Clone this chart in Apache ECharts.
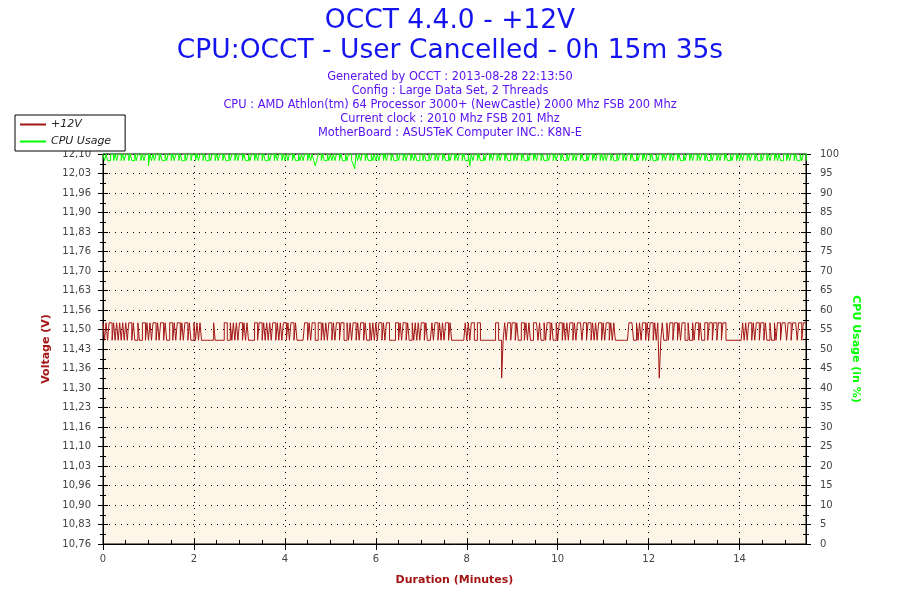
<!DOCTYPE html>
<html>
<head>
<meta charset="utf-8">
<script src="https://cdn.jsdelivr.net/npm/echarts@6/dist/echarts.min.js"></script>
<style>
html,body{margin:0;padding:0;background:#fff;}
#chart{width:900px;height:600px;}
</style>
</head>
<body>
<div id="chart"></div>
<script>
// ---------- DATA ----------
const titleLines = ['OCCT 4.4.0 - +12V', 'CPU:OCCT - User Cancelled - 0h 15m 35s'];
const infoLines = [
  'Generated by OCCT : 2013-08-28 22:13:50',
  'Config : Large Data Set, 2 Threads',
  'CPU : AMD Athlon(tm) 64 Processor 3000+ (NewCastle) 2000 Mhz FSB 200 Mhz',
  'Current clock : 2010 Mhz FSB 201 Mhz',
  'MotherBoard : ASUSTeK Computer INC.: K8N-E'
];
const seriesNames = ['+12V', 'CPU Usage'];
const voltTickLabels = ['10,76','10,83','10,90','10,96','11,03','11,10','11,16','11,23','11,30','11,36','11,43',
                        '11,50','11,56','11,63','11,70','11,76','11,83','11,90','11,96','12,03','12,10'];
const xTicks = [0, 2, 4, 6, 8, 10, 12, 14];
const sampleSeconds = 2;
// Voltage samples (one char per 2 s sample)
const voltLevels = {'0': 11.46, '1': 11.52, 's': 11.33};
const voltSamples = [
  // 0 - 5.2 min
  '1010110101','0101','01011','010','0100110','10101101011010','0110','10110','1011010','010','1010',
  '0000000','10','00000110','010','1010110101','000','0110110','10','10101101','010','1101011010',
  '000','0110','10110','0110','1010110101','10',
  // 5.2 - 10.5 min
  '1100','10101101011010','010','101011010110','000','1101011010','010','10101101','000','101101',
  '010110100','0000000','1010110','0110','000000000','1100','s','01011011010','011010100','1110100',
  '1011010','0101101010110','1011',
  // 10.5 - 15.5 min
  '1011011','010','10','11010110101','000000000','1110','010','1011010110101','s','0100','1011011',
  '010','110','0100','101101001','1011011','0110','1100','000000000','10','101101011011010','0100',
  '10110111011011101101','11'
];
// CPU usage samples (one char per 2 s sample)
const cpuLevels = {'0': 100, '1': 98.3, '2': 97.5, '3': 97, '4': 96.2};
const cpuSamples = [
  '010110010100101001011010010100',
  '301010010110100101001011010010',
  '010100101101001010010110100101',
  '001011010010100101101001010010',
  '101001011010100101013100101101',
  '010100101101001240101001011010',
  '101001010010110100101001010110',
  '010110100101001011010010100101',
  '103010010110100101001010010110',
  '010100101101001010010110100101',
  '001011010010100101101001010010',
  '101001011010010100101101001010',
  '010110100101001010010110100101',
  '001010010110100101001011010010',
  '101001010010110100101001010110',
  '010100101101001'
];

// ---------- BUILD ----------
function build(chunks, levels) {
  const s = chunks.join('');
  const out = [];
  for (let i = 0; i < s.length; i++) {
    out.push([i * sampleSeconds / 60, levels[s[i]]]);
  }
  return out;
}
const voltData = build(voltSamples, voltLevels);
const cpuData = build(cpuSamples, cpuLevels);

const FONT = 'DejaVu Sans';
const dotted = {color: '#000', width: 1, type: [1, 5]};
const red = '#a31515';
const green = '#00ff00';
const labelColor = '#444';

const titles = [];
titleLines.forEach((t, i) => titles.push({
  text: t, left: 'center', top: i === 0 ? 8 : 38, padding: 0,
  textStyle: {color: '#1414ee', fontSize: 26.5, fontWeight: 'normal', fontFamily: FONT}
}));
infoLines.forEach((t, i) => titles.push({
  text: t, left: 'center', top: 72 + i * 14, padding: 0,
  textStyle: {color: '#5a14f0', fontSize: 11.4, fontWeight: 'normal', fontFamily: FONT}
}));

const chart = echarts.init(document.getElementById('chart'));
const option = {
  animation: false,
  backgroundColor: '#fff',
  title: titles,
  legend: {
    data: seriesNames, orient: 'vertical', left: 15, top: 115, icon: 'rect',
    itemWidth: 26, itemHeight: 2, itemGap: 6, padding: [4, 14, 4, 5],
    backgroundColor: '#fff', borderColor: '#000', borderWidth: 1, borderRadius: 0,
    textStyle: {fontStyle: 'italic', fontSize: 11, fontFamily: FONT, color: '#222'}
  },
  grid: {
    left: 103, right: 94, top: 154, bottom: 56,
    show: true, backgroundColor: '#fdf6e8', borderColor: '#000', borderWidth: 1
  },
  xAxis: [
    {
      type: 'value', min: 0, max: 15.46, interval: 2, position: 'bottom',
      axisLine: {lineStyle: {color: '#000', width: 1}},
      axisTick: {length: 6, lineStyle: {color: '#000'}},
      axisLabel: {color: labelColor, fontSize: 10, fontFamily: FONT, margin: 10, showMaxLabel: false,
                  formatter: v => (xTicks.indexOf(v) >= 0 ? String(v) : '')},
      splitLine: {show: true, lineStyle: dotted},
      name: 'Duration (Minutes)', nameLocation: 'middle', nameGap: 31,
      nameTextStyle: {color: red, fontWeight: 'bold', fontSize: 11, fontFamily: FONT}
    },
    {
      type: 'value', min: 0, max: 15.46, interval: 2, position: 'bottom',
      axisLine: {show: false},
      axisTick: {inside: true, length: 6, lineStyle: {color: '#000'}},
      minorTick: {show: true, splitNumber: 4, length: 4, lineStyle: {color: '#000'}},
      axisLabel: {show: false}, splitLine: {show: false}
    }
  ],
  yAxis: [
    {type: 'value', min: 10.76, max: 12.10, position: 'left', show: false},
    {
      type: 'value', min: 0, max: 20, interval: 1, position: 'left',
      axisLine: {show: true, lineStyle: {color: '#000', width: 1}},
      axisTick: {length: 5, lineStyle: {color: '#000'}},
      minorTick: {show: true, splitNumber: 2, length: 3, lineStyle: {color: '#000'}},
      axisLabel: {color: labelColor, fontSize: 10, fontFamily: FONT, margin: 12,
                  formatter: v => voltTickLabels[Math.round(v)] || ''},
      splitLine: {show: true, lineStyle: dotted},
      name: 'Voltage (V)', nameLocation: 'middle', nameGap: 46,
      nameTextStyle: {color: red, fontWeight: 'bold', fontSize: 11, fontFamily: FONT}
    },
    {
      type: 'value', min: 0, max: 20, interval: 1, position: 'left',
      axisLine: {show: false},
      axisTick: {inside: true, length: 5, lineStyle: {color: '#000'}},
      minorTick: {show: true, splitNumber: 2, length: 3, lineStyle: {color: '#000'}},
      axisLabel: {show: false}, splitLine: {show: false}
    },
    {
      type: 'value', min: 0, max: 100, interval: 5, position: 'right',
      axisLine: {show: true, lineStyle: {color: '#000', width: 1}},
      axisTick: {length: 5, lineStyle: {color: '#000'}},
      minorTick: {show: true, splitNumber: 2, length: 3, lineStyle: {color: '#000'}},
      axisLabel: {color: labelColor, fontSize: 10, fontFamily: FONT, margin: 14},
      splitLine: {show: false},
      name: 'CPU Usage (in %)', nameLocation: 'middle', nameGap: 32, nameRotate: -90,
      nameTextStyle: {color: green, fontWeight: 'bold', fontSize: 11, fontFamily: FONT}
    },
    {
      type: 'value', min: 0, max: 100, interval: 5, position: 'right',
      axisLine: {show: false},
      axisTick: {inside: true, length: 5, lineStyle: {color: '#000'}},
      minorTick: {show: true, splitNumber: 2, length: 3, lineStyle: {color: '#000'}},
      axisLabel: {show: false}, splitLine: {show: false}
    }
  ],
  series: [
    {
      name: seriesNames[0], type: 'line', xAxisIndex: 0, yAxisIndex: 0, data: voltData,
      step: 'end', symbol: 'none', lineStyle: {color: red, width: 1}, itemStyle: {color: red}
    },
    {
      name: seriesNames[1], type: 'line', xAxisIndex: 0, yAxisIndex: 3, data: cpuData,
      step: 'end', symbol: 'none', lineStyle: {color: green, width: 1}, itemStyle: {color: green}
    }
  ]
};
chart.setOption(option);
</script>
</body>
</html>
